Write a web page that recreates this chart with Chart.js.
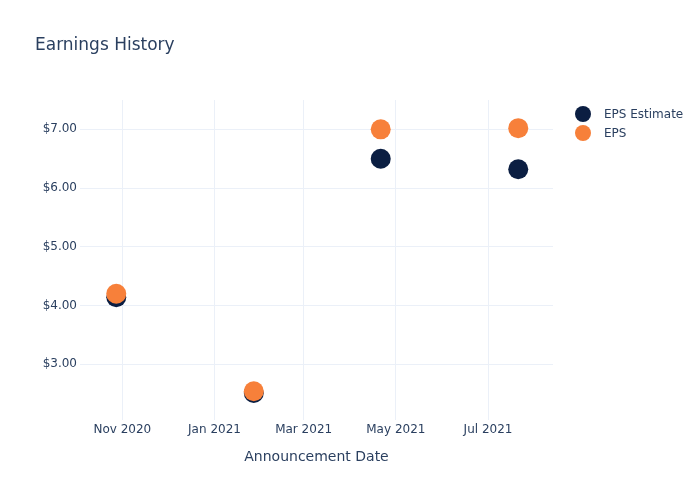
<!DOCTYPE html>
<html>
<head>
<meta charset="utf-8">
<script src="https://cdn.jsdelivr.net/npm/chart.js@4/dist/chart.umd.min.js"></script>
<style>
  html, body { margin: 0; padding: 0; background: #fff; }
  #wrap { width: 700px; height: 500px; }
</style>
</head>
<body>
<div id="wrap"><canvas id="epsChart" width="700" height="500"></canvas></div>
<script>
// datos
var fechas = ['2020-10-28', '2021-01-27', '2021-04-21', '2021-07-21'];
var epsEstimate = [4.14, 2.51, 6.50, 6.32];
var eps = [4.20, 2.54, 7.00, 7.02];
var mesesTicks = ['2020-11-01', '2021-01-01', '2021-03-01', '2021-05-01', '2021-07-01'];
var mesesLabels = ['Nov 2020', 'Jan 2021', 'Mar 2021', 'May 2021', 'Jul 2021'];
var yTicks = [3, 4, 5, 6, 7];

var colorEstimate = '#0b1e42';
var colorEps = '#f7803a';
var textColor = '#2a3f5f';
var gridColor = '#ebf0f8';
var fuente = '"DejaVu Sans", Verdana, sans-serif';

function puntos(valores) {
    return fechas.map(function(f, i) {
        return { x: Date.parse(f), y: valores[i] };
    });
}

// titulo y leyenda dibujados a mano, estilo plotly
var extras = {
    id: 'extras',
    afterDraw: function(chart) {
        var ctx = chart.ctx;
        ctx.save();
        ctx.fillStyle = textColor;
        ctx.textBaseline = 'middle';
        ctx.textAlign = 'left';
        ctx.font = '17px ' + fuente;
        ctx.fillText('Earnings History', 35, 46);

        var items = [
            { label: 'EPS Estimate', color: colorEstimate },
            { label: 'EPS', color: colorEps }
        ];
        ctx.font = '12px ' + fuente;
        items.forEach(function(it, i) {
            var y = 115 + i * 19;
            ctx.beginPath();
            ctx.arc(583, y - 1, 8, 0, Math.PI * 2);
            ctx.fillStyle = it.color;
            ctx.fill();
            ctx.fillStyle = textColor;
            ctx.fillText(it.label, 604, y);
        });
        ctx.restore();
    }
};

var ctx = document.getElementById('epsChart').getContext('2d');
var chart = new Chart(ctx, {
    type: 'scatter',
    data: {
        datasets: [{
            label: 'EPS Estimate',
            data: puntos(epsEstimate),
            backgroundColor: colorEstimate,
            borderWidth: 0,
            pointRadius: 10,
            pointHoverRadius: 10,
            order: 1
        }, {
            label: 'EPS',
            data: puntos(eps),
            backgroundColor: colorEps,
            borderWidth: 0,
            pointRadius: 10,
            pointHoverRadius: 10,
            order: 0
        }]
    },
    options: {
        responsive: false,
        animation: false,
        layout: { padding: { top: 100, right: 147, left: 0, bottom: 0 } },
        plugins: {
            legend: { display: false },
            tooltip: { enabled: false }
        },
        scales: {
            x: {
                type: 'linear',
                min: Date.parse('2020-10-04'),
                max: Date.parse('2021-08-13'),
                afterBuildTicks: function(scale) {
                    scale.ticks = mesesTicks.map(function(m) { return { value: Date.parse(m) }; });
                },
                afterFit: function(scale) { scale.height = 80; },
                ticks: {
                    color: textColor,
                    font: { family: fuente, size: 12 },
                    padding: 3,
                    maxRotation: 0,
                    callback: function(v) {
                        var i = mesesTicks.map(function(m) { return Date.parse(m); }).indexOf(v);
                        return i >= 0 ? mesesLabels[i] : '';
                    }
                },
                grid: { color: gridColor, drawTicks: false },
                border: { display: false },
                title: {
                    display: true,
                    text: 'Announcement Date',
                    color: textColor,
                    font: { family: fuente, size: 14 },
                    padding: { top: 8, bottom: 34 }
                }
            },
            y: {
                min: 2.05,
                max: 7.5,
                afterBuildTicks: function(scale) {
                    scale.ticks = yTicks.map(function(v) { return { value: v }; });
                },
                afterFit: function(scale) { scale.width = 80; },
                ticks: {
                    color: textColor,
                    font: { family: fuente, size: 12 },
                    padding: 3,
                    callback: function(v) { return '$' + v.toFixed(2); }
                },
                grid: { color: gridColor, drawTicks: false },
                border: { display: false }
            }
        }
    },
    plugins: [extras]
});
</script>
</body>
</html>
